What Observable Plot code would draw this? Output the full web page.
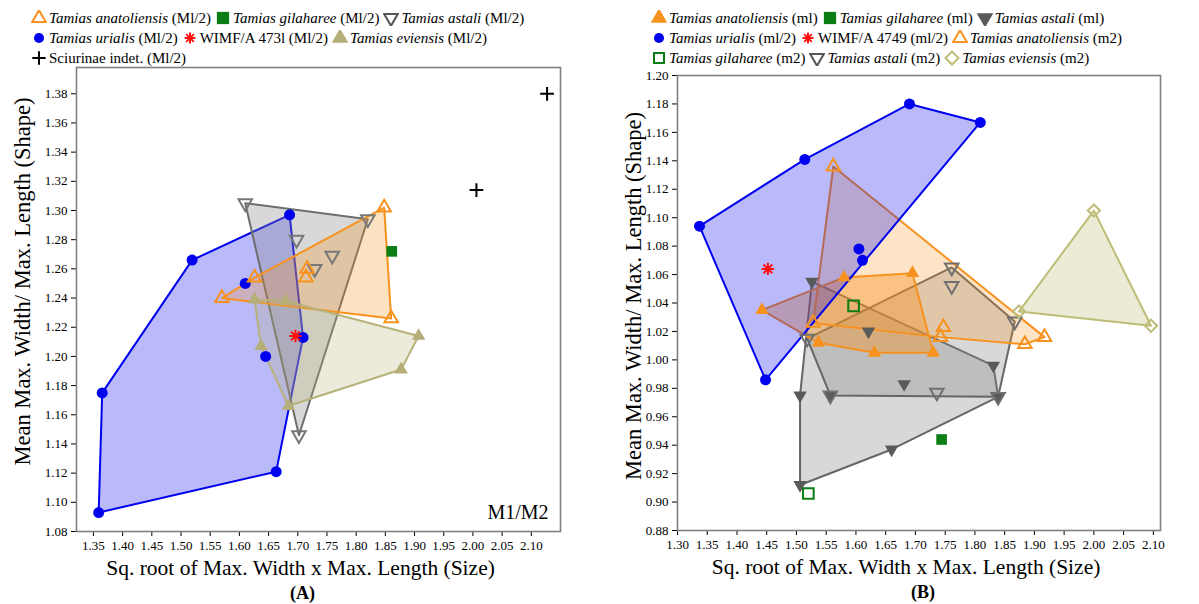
<!DOCTYPE html>
<html><head><meta charset="utf-8">
<script src="https://cdn.jsdelivr.net/npm/d3@7"></script>
<script src="https://cdn.jsdelivr.net/npm/@observablehq/plot@0.6"></script>
<style>
body{margin:0;background:#fff;font-family:"Liberation Serif",serif;}
#wrap{position:relative;width:1199px;height:604px;overflow:hidden;background:#fff}
.legend{position:absolute;font-size:15px;white-space:nowrap;color:#000}
.legend .row{height:20px;display:flex;align-items:center}
.legend .it{display:inline-flex;align-items:center;margin-right:4px}
.legend svg{margin-right:2px}
.panel{position:absolute;top:60px}
.panel svg text{font-family:"Liberation Serif",serif !important;}
.panel svg g[aria-label*="axis"] text{font-size:13px !important;fill:#000}
</style></head><body>
<div id="wrap">
 <div class="legend" id="legA" style="left:31px;top:8px"></div>
 <div class="legend" id="legB" style="left:651px;top:8px"></div>
 <div class="panel" id="plotA" style="left:0"></div>
 <div class="panel" id="plotB" style="left:600px"></div>
</div>
<script>
// ---------- tick values ----------
const xTicksA = [1.35,1.40,1.45,1.50,1.55,1.60,1.65,1.70,1.75,1.80,1.85,1.90,1.95,2.00,2.05,2.10];
const yTicksA = [1.08,1.10,1.12,1.14,1.16,1.18,1.20,1.22,1.24,1.26,1.28,1.30,1.32,1.34,1.36,1.38];
const xTicksB = [1.30,1.35,1.40,1.45,1.50,1.55,1.60,1.65,1.70,1.75,1.80,1.85,1.90,1.95,2.00,2.05,2.10];
const yTicksB = [0.88,0.90,0.92,0.94,0.96,0.98,1.00,1.02,1.04,1.06,1.08,1.10,1.12,1.14,1.16,1.18,1.20];

// ---------- panel A (M1/2) ----------
const anatA_x = [1.570, 1.626, 1.716, 1.714, 1.848, 1.860];
const anatA_y = [1.240, 1.254, 1.260, 1.254, 1.302, 1.226];
const gilaA_x = [1.861];
const gilaA_y = [1.272];
const astaA_x = [1.610, 1.820, 1.698, 1.759, 1.729, 1.702];
const astaA_y = [1.305, 1.294, 1.280, 1.269, 1.260, 1.146];
const uriaA_x = [1.359, 1.365, 1.519, 1.686, 1.610, 1.645, 1.709, 1.663];
const uriaA_y = [1.093, 1.175, 1.266, 1.297, 1.250, 1.200, 1.213, 1.121];
const wimfA_x = [1.696];
const wimfA_y = [1.214];
const evieA_x = [1.626, 1.679, 1.907, 1.877, 1.684, 1.637];
const evieA_y = [1.239, 1.238, 1.214, 1.191, 1.166, 1.207];
const sciuA_x = [2.127, 2.006];
const sciuA_y = [1.380, 1.314];

// ---------- panel B (m1, m1/2, m2) ----------
const anatB1_x = [1.442, 1.580, 1.695, 1.730, 1.631, 1.537];
const anatB1_y = [1.035, 1.058, 1.061, 1.005, 1.005, 1.012];
const gilaB1_x = [1.744];
const gilaB1_y = [0.944];
const astaB1_x = [1.526, 1.621, 1.681, 1.831, 1.839, 1.557, 1.506, 1.506, 1.660];
const astaB1_y = [1.055, 1.020, 0.983, 0.996, 0.974, 0.975, 0.975, 0.912, 0.937];
const uriaB_x = [1.337, 1.514, 1.690, 1.809, 1.605, 1.611, 1.448];
const uriaB_y = [1.094, 1.141, 1.180, 1.167, 1.078, 1.070, 0.986];
const wimfB_x = [1.452];
const wimfB_y = [1.064];
const anatB2_x = [1.562, 1.528, 1.747, 1.742, 1.884, 1.917];
const anatB2_y = [1.136, 1.026, 1.023, 1.016, 1.011, 1.016];
const gilaB2_x = [1.596, 1.520];
const gilaB2_y = [1.038, 0.906];
const astaB2_x = [1.518, 1.761, 1.761, 1.736, 1.867, 1.839, 1.557];
const astaB2_y = [1.015, 1.065, 1.052, 0.977, 1.027, 0.974, 0.975];
const evieB2_x = [2.000, 1.874, 2.096];
const evieB2_y = [1.105, 1.034, 1.024];

// ---------- texts ----------
const xTitle = "Sq. root of Max. Width x Max. Length (Size)";
const yTitle = "Mean Max. Width/ Max. Length (Shape)";

// ---------- styles ----------
const BLUE = "#0000f0", ORANGE = "#f7921e", GREEN = "#0a7d14", RED = "#ff1010";
const GRAY = "#6e6e6e", DGRAY = "#5a5a5a", KHAKI = "#b8b27a", KHAKI2 = "#bdbd78", BLACK = "#000";

const triDown = {draw(ctx, size){const y=-Math.sqrt(size/(Math.sqrt(3)*3));ctx.moveTo(0,-y*2);ctx.lineTo(-Math.sqrt(3)*y,y);ctx.lineTo(Math.sqrt(3)*y,y);ctx.closePath();}};
const aster = {draw(ctx, size){const r=Math.sqrt(size)*0.7;for(let k=0;k<4;k++){const a=k*Math.PI/4;ctx.moveTo(r*Math.cos(a),r*Math.sin(a));ctx.lineTo(-r*Math.cos(a),-r*Math.sin(a));}}};

const pts = (xs, ys) => xs.map((x, i) => ({x, y: ys[i]}));
const fmt = d3.format(".2f");

function hull(xs, ys, col, op, stroke){
  return Plot.hull(pts(xs, ys), {x:"x", y:"y", fill:col, fillOpacity:op, stroke:stroke||col, strokeWidth:2, strokeLinejoin:"round"});
}
function dots(xs, ys, o){
  return Plot.dot(pts(xs, ys), Object.assign({x:"x", y:"y"}, o));
}
function titles(dxX, dyX, dxY, dyY, panelLabel, dxP){
  return [
    Plot.text([xTitle], {text:d=>d, frameAnchor:"bottom", textAnchor:"middle", dx:dxX, dy:dyX, fontSize:21.5}),
    Plot.text([yTitle], {text:d=>d, frameAnchor:"left", textAnchor:"middle", dx:dxY, dy:dyY, rotate:-90, fontSize:22.5}),
    Plot.text([panelLabel], {text:d=>d, frameAnchor:"bottom", textAnchor:"middle", dx:dxP, dy:dyX+24, fontSize:18, fontWeight:"bold"})
  ];
}
const baseStyle = {fontFamily:"Liberation Serif", fontSize:"13px", color:"#000", background:"transparent", overflow:"visible"};

const plotA = Plot.plot({
  width:600, height:544, marginLeft:76, marginRight:40, marginTop:7, marginBottom:73,
  style: baseStyle,
  x:{domain:[1.321, 2.150], ticks:xTicksA, tickFormat:fmt, tickSize:5, label:null},
  y:{domain:[1.08, 1.398], ticks:yTicksA, tickFormat:fmt, tickSize:5, label:null},
  marks:[
    hull(uriaA_x, uriaA_y, BLUE, 0.27),
    hull(astaA_x, astaA_y, "#8a8a8a", 0.33, GRAY),
    hull(anatA_x, anatA_y, ORANGE, 0.27),
    hull(evieA_x, evieA_y, KHAKI, 0.27),
    Plot.frame({stroke:"#808080", strokeWidth:1.6}),
    dots(uriaA_x, uriaA_y, {symbol:"circle", r:5.5, fill:BLUE}),
    dots(astaA_x, astaA_y, {symbol:triDown, r:5, fill:"none", stroke:"#777", strokeWidth:2}),
    dots(anatA_x, anatA_y, {symbol:"triangle", r:5, fill:"none", stroke:ORANGE, strokeWidth:2}),
    dots(evieA_x, evieA_y, {symbol:"triangle", r:5, fill:"#b5ae78"}),
    dots(gilaA_x, gilaA_y, {symbol:"square", r:6, fill:GREEN}),
    dots(wimfA_x, wimfA_y, {symbol:aster, r:5, stroke:RED, strokeWidth:2, fill:"none"}),
    dots(sciuA_x, sciuA_y, {symbol:"plus", r:4.5, stroke:BLACK, strokeWidth:2, fill:"none"}),
    Plot.text(["M1/M2"], {text:d=>d, frameAnchor:"bottom-right", dx:-12, dy:-13, textAnchor:"end", fontSize:20}),
    ...titles(-18, 43, -54, -18, "(A)", -16)
  ]
});
document.getElementById("plotA").append(plotA);

const plotB = Plot.plot({
  width:599, height:544, marginLeft:77, marginRight:39, marginTop:15, marginBottom:74,
  style: baseStyle,
  x:{domain:[1.30, 2.112], ticks:xTicksB, tickFormat:fmt, tickSize:5, label:null},
  y:{domain:[0.88, 1.20], ticks:yTicksB, tickFormat:fmt, tickSize:5, label:null},
  marks:[
    hull(astaB1_x, astaB1_y, "#8a8a8a", 0.33, "#666"),
    hull(astaB2_x, astaB2_y, "#8a8a8a", 0.33, "#666"),
    hull(anatB2_x, anatB2_y, ORANGE, 0.25),
    hull(anatB1_x, anatB1_y, ORANGE, 0.4),
    hull(evieB2_x, evieB2_y, KHAKI2, 0.3),
    hull(uriaB_x, uriaB_y, BLUE, 0.27),
    Plot.frame({stroke:"#808080", strokeWidth:1.6}),
    dots(uriaB_x, uriaB_y, {symbol:"circle", r:5.5, fill:BLUE}),
    dots(astaB1_x, astaB1_y, {symbol:triDown, r:5, fill:DGRAY}),
    dots(astaB2_x, astaB2_y, {symbol:triDown, r:5, fill:"none", stroke:"#707070", strokeWidth:2}),
    dots(anatB1_x, anatB1_y, {symbol:"triangle", r:5, fill:ORANGE}),
    dots(anatB2_x, anatB2_y, {symbol:"triangle", r:5, fill:"none", stroke:ORANGE, strokeWidth:2}),
    dots(gilaB1_x, gilaB1_y, {symbol:"square", r:6, fill:GREEN}),
    dots(gilaB2_x, gilaB2_y, {symbol:"square", r:6, fill:"none", stroke:GREEN, strokeWidth:2}),
    dots(evieB2_x, evieB2_y, {symbol:"diamond2", r:5.5, fill:"none", stroke:KHAKI2, strokeWidth:2}),
    dots(wimfB_x, wimfB_y, {symbol:aster, r:5, stroke:RED, strokeWidth:2, fill:"none"}),
    ...titles(-13, 43, -44, -7, "(B)", 4)
  ]
});
document.getElementById("plotB").append(plotB);

// ---------- legends ----------
function symSvg(sym, fill, stroke, size){
  const s = 16;
  const type = typeof sym === "string" ? ({circle:d3.symbolCircle, triangle:d3.symbolTriangle, square:d3.symbolSquare, plus:d3.symbolPlus, diamond2:d3.symbolDiamond2})[sym] : sym;
  const path = d3.symbol(type, size)();
  return `<svg width="${s}" height="${s}" viewBox="${-s/2} ${-s/2} ${s} ${s}"><path d="${path}" fill="${fill}" stroke="${stroke}" stroke-width="2"/></svg>`;
}
function legend(id, rows){
  const el = document.getElementById(id);
  el.innerHTML = rows.map(r => `<div class="row">${r.map(it =>
    `<span class="it">${symSvg(it.sym, it.fill, it.stroke, it.size)}${it.italic ? `<i>${it.name}</i>` : it.name}&nbsp;${it.tag}</span>`).join("")}</div>`).join("");
}
legend("legA", [
  [{sym:"triangle", fill:"none", stroke:ORANGE, size:80, italic:true, name:"Tamias anatoliensis", tag:"(Ml/2)"},
   {sym:"square", fill:GREEN, stroke:"none", size:150, italic:true, name:"Tamias gilaharee", tag:"(Ml/2)"},
   {sym:triDown, fill:"none", stroke:"#555", size:80, italic:true, name:"Tamias astali", tag:"(Ml/2)"}],
  [{sym:"circle", fill:BLUE, stroke:"none", size:80, italic:true, name:"Tamias urialis", tag:"(Ml/2)"},
   {sym:aster, fill:"none", stroke:RED, size:60, italic:false, name:"WIMF/A 473l", tag:"(Ml/2)"},
   {sym:"triangle", fill:"#b5ae78", stroke:"none", size:120, italic:true, name:"Tamias eviensis", tag:"(Ml/2)"}],
  [{sym:"plus", fill:"none", stroke:BLACK, size:60, italic:false, name:"Sciurinae indet.", tag:"(Ml/2)"}]
]);
legend("legB", [
  [{sym:"triangle", fill:ORANGE, stroke:"none", size:120, italic:true, name:"Tamias anatoliensis", tag:"(ml)"},
   {sym:"square", fill:GREEN, stroke:"none", size:150, italic:true, name:"Tamias gilaharee", tag:"(ml)"},
   {sym:triDown, fill:DGRAY, stroke:"none", size:120, italic:true, name:"Tamias astali", tag:"(ml)"}],
  [{sym:"circle", fill:BLUE, stroke:"none", size:80, italic:true, name:"Tamias urialis", tag:"(ml/2)"},
   {sym:aster, fill:"none", stroke:RED, size:60, italic:false, name:"WIMF/A 4749", tag:"(ml/2)"},
   {sym:"triangle", fill:"none", stroke:ORANGE, size:80, italic:true, name:"Tamias anatoliensis", tag:"(m2)"}],
  [{sym:"square", fill:"none", stroke:GREEN, size:100, italic:true, name:"Tamias gilaharee", tag:"(m2)"},
   {sym:triDown, fill:"none", stroke:"#555", size:80, italic:true, name:"Tamias astali", tag:"(m2)"},
   {sym:"diamond2", fill:"none", stroke:KHAKI2, size:110, italic:true, name:"Tamias eviensis", tag:"(m2)"}]
]);
</script>
</body></html>
